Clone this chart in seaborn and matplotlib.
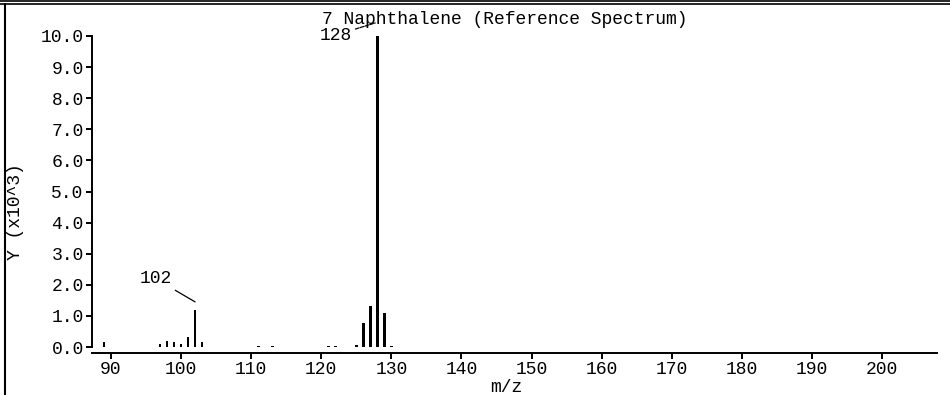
import matplotlib
matplotlib.use("Agg")
import matplotlib.pyplot as plt
from matplotlib.lines import Line2D
import seaborn as sns
import pandas as pd

# ---- data ----
mz = [89, 97, 98, 99, 100, 101, 102, 103, 111, 113, 121, 122, 125, 126, 127, 128, 129, 130]
intensity = [0.16, 0.10, 0.19, 0.15, 0.10, 0.33, 1.20, 0.16, 0.03, 0.03, 0.03, 0.03,
             0.06, 0.77, 1.32, 10.0, 1.09, 0.04]
x_ticks = [90, 100, 110, 120, 130, 140, 150, 160, 170, 180, 190, 200]
y_ticks = [0, 1, 2, 3, 4, 5, 6, 7, 8, 9, 10]
title = "7 Naphthalene (Reference Spectrum)"
labels = [("102", 102, 1.20), ("128", 128, 10.0)]

sns.set_theme(style="white")
plt.rcParams["font.family"] = ["Liberation Mono", "DejaVu Sans Mono"]
FS = 13

df = pd.DataFrame({"mz": mz, "y": intensity})

fig = plt.figure(figsize=(9.5, 3.95), dpi=100)
W, H = 950, 395
ax = fig.add_axes([92 / W, 1 - 347 / H, (937 - 92) / W, (347 - 36) / H])

sns.barplot(data=df, x="mz", y="y", native_scale=True, width=0.38,
            color="black", saturation=1, edgecolor="none", linewidth=0, ax=ax)
for p in ax.patches:
    p.set_clip_on(False)

ax.set_xlim(87.29, 207.85)
ax.set_ylim(0, 10)
ax.set_xticks(x_ticks)
ax.set_xticklabels([str(v) for v in x_ticks], fontsize=FS)
ax.set_yticks(y_ticks)
ax.set_yticklabels([f"{v:.1f}" for v in y_ticks], fontsize=FS)

for s in ["top", "right"]:
    ax.spines[s].set_visible(False)
for s in ["left", "bottom"]:
    ax.spines[s].set_color("black")
    ax.spines[s].set_linewidth(1.4)
ax.spines["bottom"].set_position(("outward", 4.3))
ax.tick_params(axis="both", direction="out", length=4, width=1.4, colors="black",
               pad=2, labelsize=FS)
ax.tick_params(axis="both", left=True, bottom=True)
ax.grid(False)

ax.set_xlabel("")
ax.set_ylabel("")
fig.text(505 / W, 1 - 24 / H, title, ha="center", va="baseline", fontsize=FS, color="black")
fig.text(506 / W, 1 - 387 / H, "m/z", ha="center", va="center", fontsize=FS, color="black")
fig.text(20 / W, 1 - 212 / H, "Y (x10^3)", ha="center", va="baseline", rotation=90,
         rotation_mode="anchor", fontsize=FS, color="black")

# peak labels with leader lines
ax.annotate(labels[0][0], xy=(labels[0][1], 1.45), xytext=(98.7, 2.19),
            ha="right", va="center", fontsize=FS, color="black",
            arrowprops=dict(arrowstyle="-", color="black", lw=0.9,
                            shrinkA=0, shrinkB=0), annotation_clip=False)
ax.annotate(labels[1][0], xy=(127.7, 10.42), xytext=(124.4, 10.03),
            ha="right", va="center", fontsize=FS, color="black",
            arrowprops=dict(arrowstyle="-", color="black", lw=0.9, ls=(0, (3, 1)),
                            shrinkA=0, shrinkB=0), annotation_clip=False)

# outer frame lines
fig.add_artist(Line2D([0, 1], [1 - 0.8 / H, 1 - 0.8 / H], color="black", lw=1.2,
                      transform=fig.transFigure))
fig.add_artist(Line2D([0, 1], [1 - 4.4 / H, 1 - 4.4 / H], color="black", lw=1.2,
                      transform=fig.transFigure))
fig.add_artist(Line2D([5 / W, 5 / W], [0, 1 - 4.4 / H], color="black", lw=1.5,
                      transform=fig.transFigure))

fig.savefig("out.png", dpi=100, facecolor="white")
